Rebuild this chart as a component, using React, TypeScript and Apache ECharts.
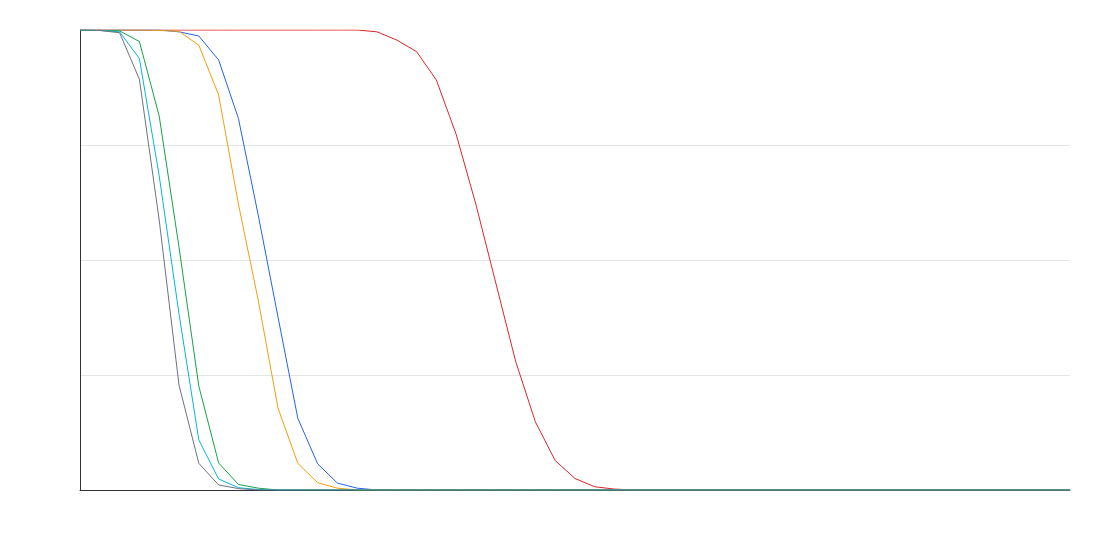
import { useRef, useEffect } from 'react';
import * as echarts from 'echarts';

const xLabels = [
  '0', '1', '2', '3', '4', '5', '6', '7', '8', '9',
  '10', '11', '12', '13', '14', '15', '16', '17', '18', '19',
  '20', '21', '22', '23', '24', '25', '26', '27', '28', '29',
  '30', '31', '32', '33', '34', '35', '36', '37', '38', '39',
  '40', '41', '42', '43', '44', '45', '46', '47', '48', '49', '50',
];

const redValues = [
  100, 100, 100, 100, 100, 100, 100, 100, 100, 100,
  100, 100, 100, 100, 100, 99.6, 97.8, 95.3, 89.1, 77.3,
  62, 45, 28, 14.8, 6.4, 2.5, 0.7, 0.2, 0, 0,
  0, 0, 0, 0, 0, 0, 0, 0, 0, 0,
  0, 0, 0, 0, 0, 0, 0, 0, 0, 0, 0,
];

const blueValues = [
  100, 100, 100, 100, 100, 99.6, 98.7, 93.5, 80.8, 59.8,
  37.6, 15.6, 5.7, 1.5, 0.4, 0, 0, 0, 0, 0,
  0, 0, 0, 0, 0, 0, 0, 0, 0, 0,
  0, 0, 0, 0, 0, 0, 0, 0, 0, 0,
  0, 0, 0, 0, 0, 0, 0, 0, 0, 0, 0,
];

const orangeValues = [
  100, 100, 100, 100, 99.9, 99.7, 96.7, 85.9, 62.2, 41.3,
  17.8, 5.8, 1.6, 0.4, 0, 0, 0, 0, 0, 0,
  0, 0, 0, 0, 0, 0, 0, 0, 0, 0,
  0, 0, 0, 0, 0, 0, 0, 0, 0, 0,
  0, 0, 0, 0, 0, 0, 0, 0, 0, 0, 0,
];

const greenValues = [
  100, 99.9, 99.8, 97.5, 81.3, 52.8, 22.6, 5.9, 1.2, 0.4,
  0, 0, 0, 0, 0, 0, 0, 0, 0, 0,
  0, 0, 0, 0, 0, 0, 0, 0, 0, 0,
  0, 0, 0, 0, 0, 0, 0, 0, 0, 0,
  0, 0, 0, 0, 0, 0, 0, 0, 0, 0, 0,
];

const cyanValues = [
  100, 99.9, 99.6, 93.8, 68.3, 38.3, 10.9, 2.4, 0.5, 0.1,
  0, 0, 0, 0, 0, 0, 0, 0, 0, 0,
  0, 0, 0, 0, 0, 0, 0, 0, 0, 0,
  0, 0, 0, 0, 0, 0, 0, 0, 0, 0,
  0, 0, 0, 0, 0, 0, 0, 0, 0, 0, 0,
];

const grayValues = [
  100, 99.9, 99.4, 89.3, 58.7, 22.8, 5.8, 1.1, 0.3, 0,
  0, 0, 0, 0, 0, 0, 0, 0, 0, 0,
  0, 0, 0, 0, 0, 0, 0, 0, 0, 0,
  0, 0, 0, 0, 0, 0, 0, 0, 0, 0,
  0, 0, 0, 0, 0, 0, 0, 0, 0, 0, 0,
];

// drawing order matters: gray ends up on top, red at the bottom
const seriesList = [
  { name: 'Series 1', color: '#dc2626', data: redValues },
  { name: 'Series 2', color: '#2563eb', data: blueValues },
  { name: 'Series 3', color: '#f59e0b', data: orangeValues },
  { name: 'Series 4', color: '#16a34a', data: greenValues },
  { name: 'Series 5', color: '#06b6d4', data: cyanValues },
  { name: 'Series 6', color: '#6b7280', data: grayValues },
];

export default function App() {
  const chartRef = useRef<HTMLDivElement>(null);

  useEffect(() => {
    if (!chartRef.current) return;
    const chart = echarts.init(chartRef.current, null, { renderer: 'svg' });

    chart.setOption({
      animation: false,
      grid: { left: 80, right: 30, top: 30, bottom: 70 },
      xAxis: {
        type: 'category',
        data: xLabels,
        boundaryGap: false,
        axisLine: { show: true, lineStyle: { color: '#333333', width: 1 } },
        axisTick: { show: false },
        axisLabel: { show: false },
        splitLine: { show: false },
      },
      yAxis: {
        type: 'value',
        min: 0,
        max: 100,
        interval: 25,
        axisLine: { show: true, lineStyle: { color: '#333333', width: 1 } },
        axisTick: { show: false },
        axisLabel: { show: false },
        splitLine: {
          show: true,
          showMaxLine: false,
          lineStyle: { color: '#e5e5e5', width: 1 },
        },
      },
      series: seriesList.map((s) => ({
        name: s.name,
        type: 'line',
        data: s.data,
        showSymbol: false,
        symbol: 'none',
        lineStyle: { color: s.color, width: 1 },
        itemStyle: { color: s.color },
      })),
    });

    return () => {
      chart.dispose();
    };
  }, []);

  return (
    <div
      ref={chartRef}
      style={{ position: 'absolute', left: 0, top: 0, width: 1100, height: 560 }}
    />
  );
}
